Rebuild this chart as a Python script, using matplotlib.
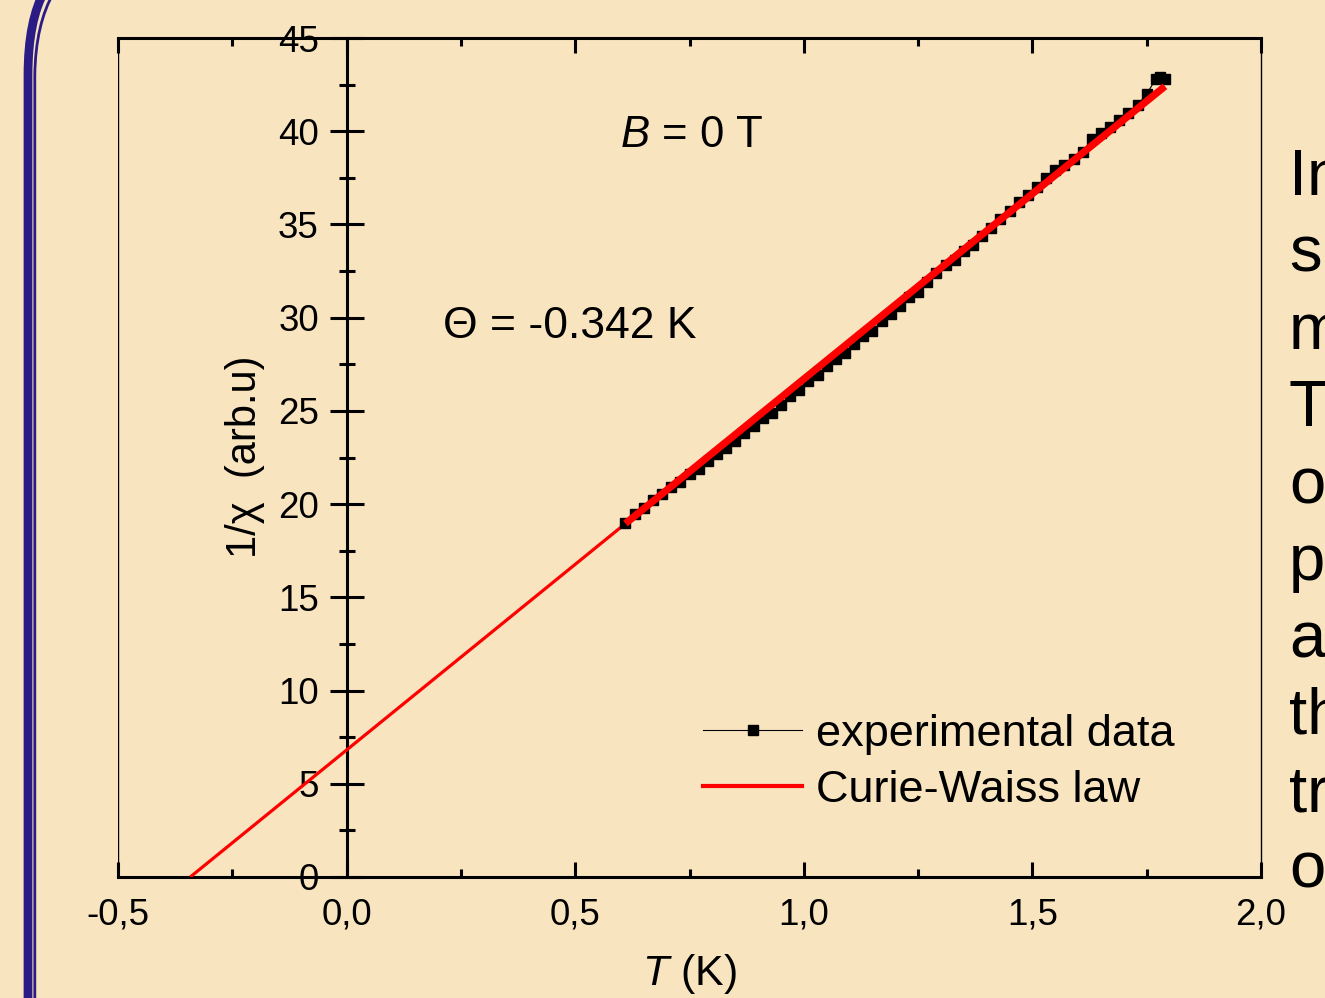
import matplotlib
matplotlib.use("Agg")
import matplotlib.pyplot as plt
from matplotlib.path import Path
from matplotlib.patches import PathPatch
from matplotlib.ticker import FixedLocator, MultipleLocator

plt.rcParams['font.family'] = ['Liberation Sans', 'DejaVu Sans']
plt.rcParams['mathtext.fontset'] = 'custom'
plt.rcParams['mathtext.rm'] = 'Liberation Sans'
plt.rcParams['mathtext.it'] = 'Liberation Sans:italic'

# ---- data ----
T_exp = [0.61, 0.63, 0.65, 0.67, 0.69, 0.71, 0.73, 0.75, 0.77, 0.79,
         0.81, 0.83, 0.85, 0.87, 0.89, 0.91, 0.93, 0.95, 0.97, 0.99,
         1.01, 1.03, 1.05, 1.07, 1.09, 1.11, 1.13, 1.15, 1.17, 1.19,
         1.21, 1.23, 1.25, 1.27, 1.29, 1.31, 1.33, 1.35, 1.37, 1.39,
         1.41, 1.43, 1.45, 1.47, 1.49, 1.51, 1.53, 1.55, 1.57, 1.59,
         1.61, 1.63, 1.65, 1.67, 1.69, 1.71, 1.73, 1.75, 1.77, 1.78, 1.79]
inv_chi_exp = [19.0, 19.45, 19.8, 20.2, 20.55, 20.9, 21.2, 21.6, 21.9, 22.3,
               22.7, 23.0, 23.4, 23.8, 24.2, 24.6, 24.9, 25.3, 25.8, 26.1,
               26.6, 26.9, 27.4, 27.8, 28.1, 28.6, 29.0, 29.3, 29.8, 30.2,
               30.6, 31.1, 31.4, 31.9, 32.4, 32.8, 33.1, 33.6, 33.9, 34.4,
               34.8, 35.3, 35.7, 36.2, 36.6, 37.0, 37.5, 37.9, 38.2, 38.5,
               38.9, 39.6, 39.9, 40.2, 40.6, 41.0, 41.4, 42.0, 42.8, 42.9, 42.8]

# Curie-Weiss line (extrapolation and fit range endpoints)
T_cw_extrap = [-0.342, 0.61]
inv_chi_cw_extrap = [0.0, 18.96]
T_cw_fit = [0.61, 1.79]
inv_chi_cw_fit = [18.96, 42.41]

x_ticks = [-0.5, 0.0, 0.5, 1.0, 1.5, 2.0]
x_tick_labels = ['-0,5', '0,0', '0,5', '1,0', '1,5', '2,0']
y_ticks = [0, 5, 10, 15, 20, 25, 30, 35, 40, 45]
y_tick_labels = ['0', '5', '10', '15', '20', '25', '30', '35', '40', '45']

side_text = ['In', 's', 'm', 'T', 'o', 'p', 'a', 'th', 'tr', 'o']

BG = '#F9E4C0'
NAVY = '#2B1B84'

W, H = 1325, 998
fig = plt.figure(figsize=(W / 100, H / 100), dpi=100, facecolor=BG)

# overlay in pixel coordinates for decoration
ov = fig.add_axes([0, 0, 1, 1], zorder=0)
ov.set_xlim(0, W)
ov.set_ylim(H, 0)
ov.axis('off')
ov.patch.set_alpha(0)

thick = Path([(28, 1010), (28, 75), (28, 20), (45, -10)],
             [Path.MOVETO, Path.LINETO, Path.CURVE3, Path.CURVE3])
thin = Path([(34.8, 1010), (34.8, 75), (35.5, 24), (54, -8)],
            [Path.MOVETO, Path.LINETO, Path.CURVE3, Path.CURVE3])
ov.add_patch(PathPatch(thick, fill=False, edgecolor=NAVY, lw=6.3, capstyle='butt'))
ov.add_patch(PathPatch(thin, fill=False, edgecolor=NAVY, lw=2.0, capstyle='butt'))

y0 = 195
for i, s in enumerate(side_text):
    ov.text(1289, y0 + 77 * i, s, fontsize=47, ha='left', va='baseline', color='black')

# main axes
ax = fig.add_axes([118 / W, 1 - 877 / H, (1261 - 118) / W, (877 - 38) / H], zorder=1)
ax.set_facecolor(BG)
ax.patch.set_alpha(0)
ax.set_xlim(-0.5, 2.0)
ax.set_ylim(0, 45)

ax.plot(T_cw_extrap, inv_chi_cw_extrap, color='#FF0000', lw=2.3, solid_capstyle='butt', zorder=3)
ax.plot(T_exp, inv_chi_exp, color='black', lw=0.8, marker='s', ms=7.5, mec='black', mfc='black',
        zorder=4)
ax.plot(T_cw_fit, inv_chi_cw_fit, color='#FF0000', lw=5.2, solid_capstyle='butt', zorder=5)

# legend handles
h1, = ax.plot([], [], color='black', lw=0.8, marker='s', ms=7, label='experimental data')
h2, = ax.plot([], [], color='#FF0000', lw=3, label='Curie-Waiss law')
leg = ax.legend(handles=[h1, h2], loc='upper left', bbox_to_anchor=(703 / W, 1 - 714 / H),
                bbox_transform=fig.transFigure, frameon=False, fontsize=32.5, numpoints=1,
                handlelength=2.2, handletextpad=0.3, labelspacing=0.33, borderpad=0,
                borderaxespad=0)

# spines
ax.spines['left'].set_position(('data', 0))
ax.spines['left'].set_linewidth(2.2)
ax.spines['bottom'].set_linewidth(2.2)
ax.spines['top'].set_linewidth(2.2)
ax.spines['right'].set_linewidth(1.0)
ax.axvline(-0.5, color='black', lw=1.0, zorder=2)

ax.xaxis.set_major_locator(FixedLocator(x_ticks))
ax.set_xticklabels(x_tick_labels)
ax.xaxis.set_minor_locator(MultipleLocator(0.25))
ax.yaxis.set_major_locator(FixedLocator(y_ticks))
ax.set_yticklabels(y_tick_labels)
ax.yaxis.set_minor_locator(MultipleLocator(2.5))

ax.tick_params(axis='x', which='both', direction='in', top=True, bottom=True, width=2.2,
               labelsize=26.5, pad=15)
ax.tick_params(axis='x', which='major', length=11)
ax.tick_params(axis='x', which='minor', length=5.5)
ax.tick_params(axis='y', which='both', direction='inout', left=True, right=False, width=2.2,
               labelsize=26.5, pad=8)
ax.tick_params(axis='y', which='major', length=24)
ax.tick_params(axis='y', which='minor', length=12)

ax.set_xlabel(r'$\it{T}$ (K)', fontsize=31, labelpad=14)
fig.text(245 / W, 1 - 457 / H, '1/χ  (arb.u)', rotation=90, fontsize=30,
         ha='center', va='center')

ax.text(0.598, 39.75, r'$\it{B}$ = 0 T', fontsize=31.5, ha='left', va='center')
ax.text(0.211, 29.5, 'Θ = -0.342 K', fontsize=32, ha='left', va='center')

fig.savefig('out.png', dpi=100, facecolor=BG)
